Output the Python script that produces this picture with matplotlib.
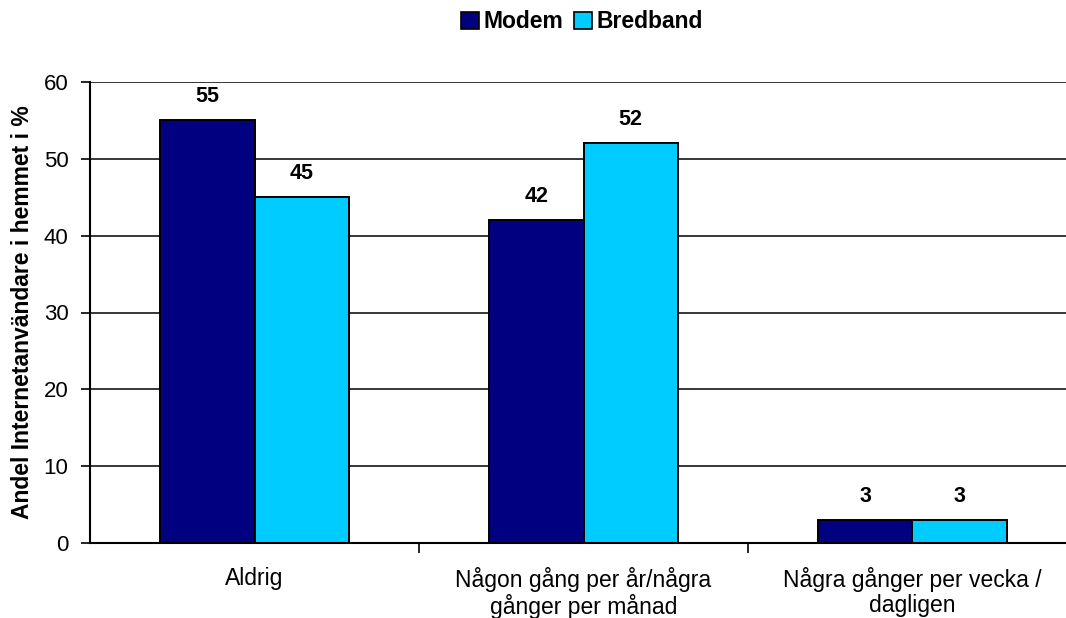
import matplotlib
matplotlib.use("Agg")
import matplotlib.pyplot as plt
from matplotlib.patches import Patch

categories = ["Aldrig", "Någon gång per år/några\ngånger per månad", "Några gånger per vecka /\ndagligen"]
modem = [55, 42, 3]
bredband = [45, 52, 3]
series_names = ["Modem", "Bredband"]
colors = ["#000080", "#00CCFF"]
yticks = [0, 10, 20, 30, 40, 50, 60]

plt.rcParams['font.family'] = ['Liberation Sans', 'DejaVu Sans']

fig = plt.figure(figsize=(10.66, 6.18), dpi=100)
ax = fig.add_axes([90/1066, 1-543/618, (1077-90)/1066, (543-82)/618])

w = 0.286
x = list(range(len(categories)))
for off, vals, c in [(-w/2, modem, colors[0]), (w/2, bredband, colors[1])]:
    xs = [i + off for i in x]
    ax.bar(xs, vals, width=w, color=c, edgecolor='black', linewidth=1.4, zorder=3)
    for xi, v in zip(xs, vals):
        ax.annotate(str(v), (xi, v), xytext=(0, 9.5), textcoords='offset points',
                    ha='center', va='bottom', fontsize=15.5, fontweight='bold')

ax.set_xlim(-0.5, len(categories) - 0.5)
ax.set_ylim(0, 60)
ax.set_yticks(yticks)
ax.set_yticklabels([str(t) for t in yticks], fontsize=16)
ax.yaxis.grid(True, color='black', linewidth=1.1, zorder=0)
ax.set_axisbelow(True)

ax.set_xticks(x)
ax.set_xticklabels(categories, fontsize=16.5, linespacing=1.12)
ax.tick_params(axis='x', length=0, pad=17)
ax.set_xticks([i + 0.5 for i in x], minor=True)
ax.tick_params(axis='x', which='minor', length=7, width=1.2, direction='out')
ax.tick_params(axis='y', length=6.5, width=1.2, direction='out', pad=9)

for s in ['top', 'right']:
    ax.spines[s].set_visible(False)
for s in ['left', 'bottom']:
    ax.spines[s].set_linewidth(1.5)
    ax.spines[s].set_zorder(4)

ax.set_ylabel("Andel Internetanvändare i hemmet i %", fontsize=16.5, fontweight='bold', labelpad=7)

handles = [Patch(facecolor=c, edgecolor='black', linewidth=1.2) for c in colors]
fig.legend(handles, series_names, loc='center', bbox_to_anchor=(582/1066, 1-22/618), ncol=2,
           frameon=False, prop={'weight': 'bold', 'size': 16.5}, handlelength=0.75, handleheight=0.75,
           handletextpad=0.2, columnspacing=0.5)

fig.savefig("out.png", dpi=100)
